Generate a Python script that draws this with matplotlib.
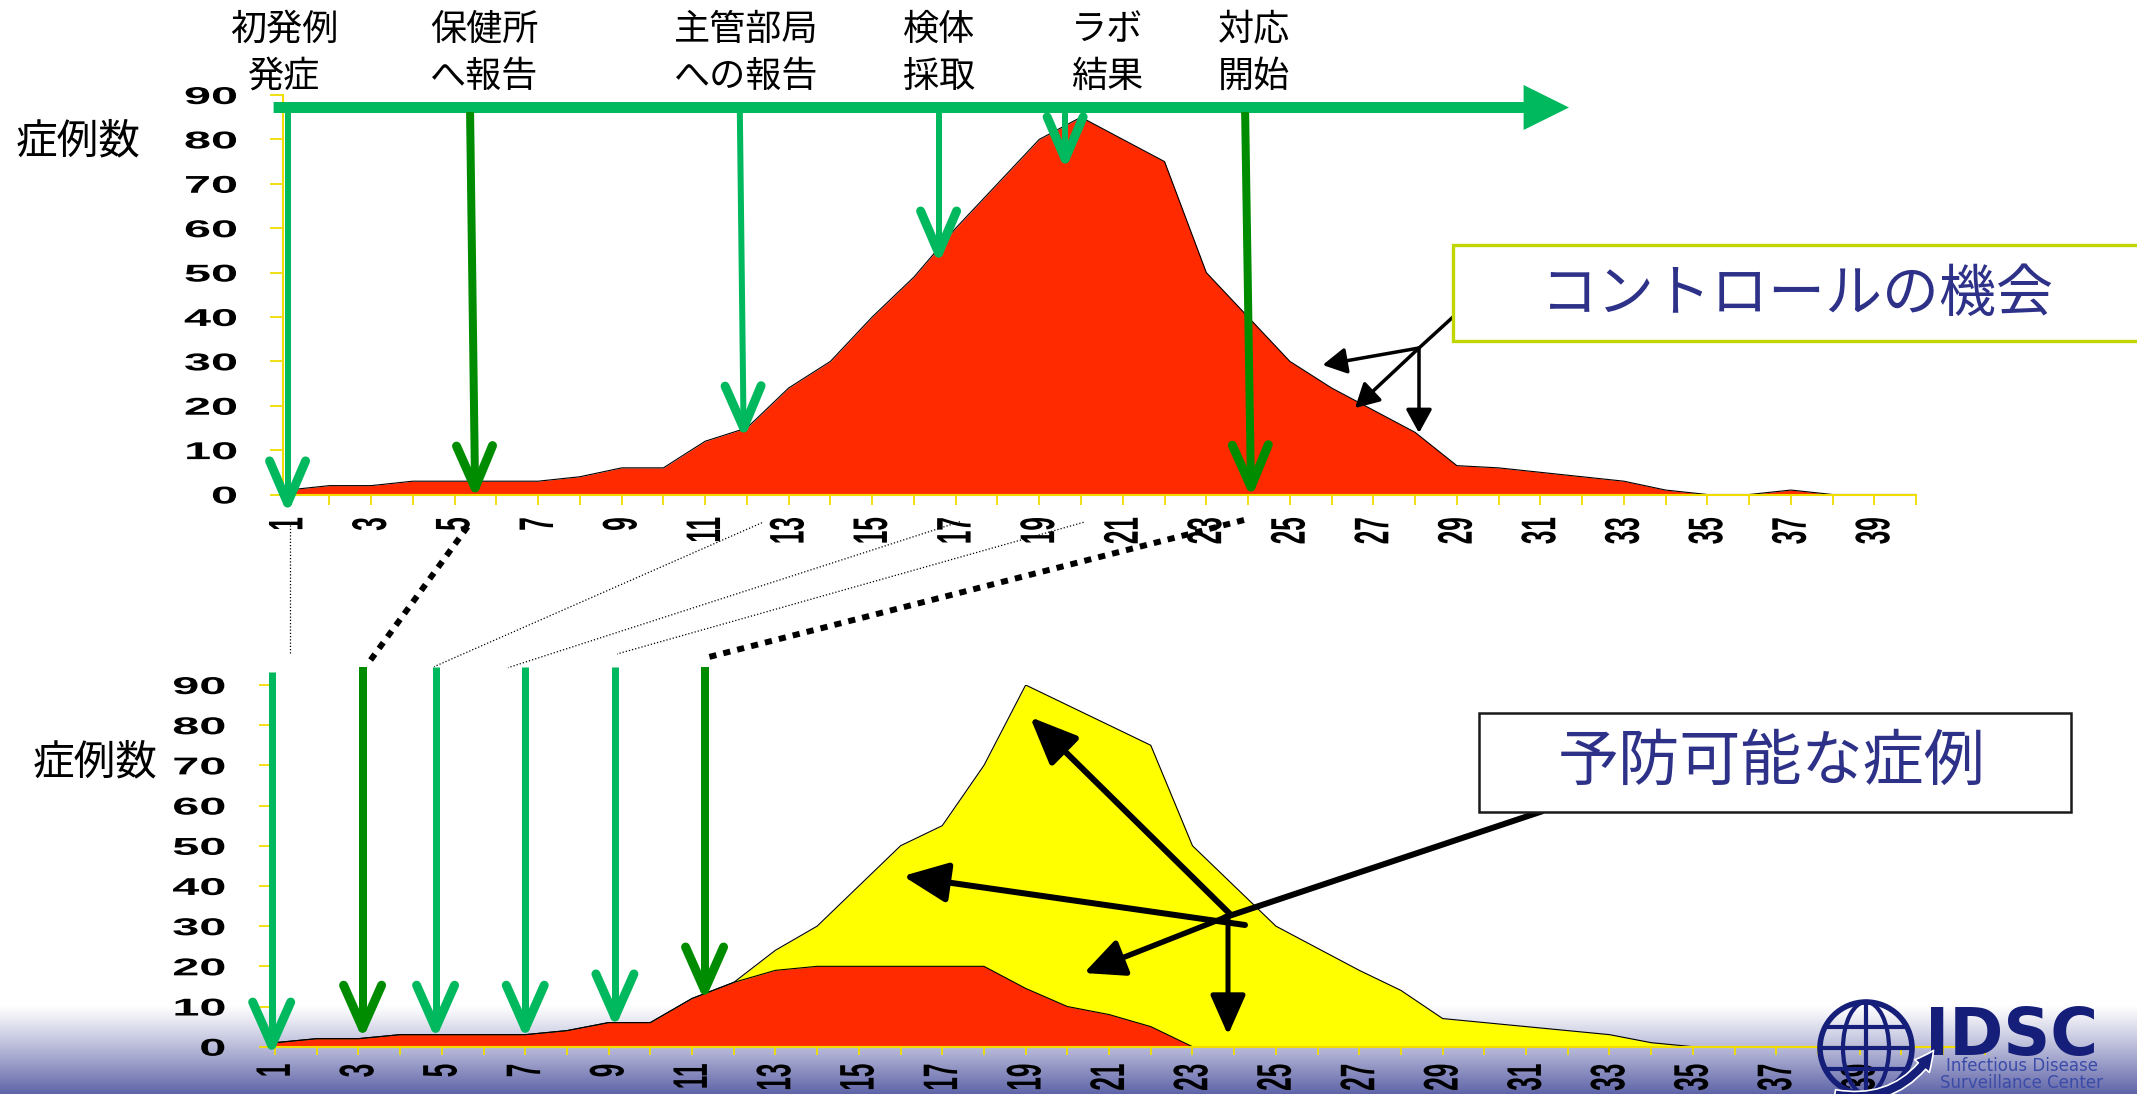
import numpy as np
import matplotlib
matplotlib.use("Agg")
import matplotlib.pyplot as plt
from matplotlib.patches import Rectangle, Polygon, FancyArrowPatch, Circle, Ellipse
from matplotlib.patheffects import AbstractPathEffect
from matplotlib.transforms import Affine2D

plt.rcParams['font.family'] = ['Noto Sans CJK JP', 'DejaVu Sans']

W, H = 2137, 1094

# ---- data ----
days_top = np.arange(1, 41)
cases_top = [1, 2, 2, 3, 3, 3, 3, 4, 6, 6, 12, 15, 24, 30, 40, 49, 60, 70, 80, 85,
             80, 75, 50, 40, 30, 24, 19, 14, 6.5, 6, 5, 4, 3, 1, 0, 0, 1, 0, 0, 0]

days_bottom = np.arange(1, 41)
cases_all = [1, 2, 2, 3, 3, 3, 3, 4, 6, 6, 12, 16, 24, 30, 40, 50, 55, 70, 90, 85,
             80, 75, 50, 40, 30, 24.5, 19, 14, 7, 6, 5, 4, 3, 1, 0, 0, 0, 0, 0, 0]
cases_early = [1, 2, 2, 3, 3, 3, 3, 4, 6, 6, 12, 16, 19, 20, 20, 20, 20, 20, 14.5, 10,
               8, 5, 0, 0, 0, 0, 0, 0, 0, 0, 0, 0, 0, 0, 0, 0, 0, 0, 0, 0]

y_ticks = list(range(0, 100, 10))

event_labels = ["初発例\n発症", "保健所\nへ報告", "主管部局\nへの報告", "検体\n採取", "ラボ\n結果", "対応\n開始"]
event_dark = [False, True, False, False, False, True]
# top chart: day where arrow leaves the timeline, day / value at the tip
top_event_day = [1.0, 5.37, 11.83, 16.59, 19.62, 23.93]
top_tip_day = [1.0, 5.49, 11.92, 16.59, 19.62, 24.07]
top_tip_val = [-1.9, 1.5, 15.0, 54.4, 75.6, 1.7]
# bottom chart: same events, earlier
bot_event_day = [0.92, 3.1, 4.85, 7.0, 9.15, 11.3]
bot_start_val = [93.2, 94.5, 94.5, 94.5, 94.5, 94.5]
bot_tip_val = [0.4, 4.6, 4.6, 4.6, 7.4, 14.1]

LIGHT = '#00B95E'
DARK = '#008C00'
RED = '#FF2A00'
YEL = '#FFFF00'
AXC = '#F2DC00'
NAVY = '#2E3188'


class HStretch(AbstractPathEffect):
    """Widen text on screen, the way the pasted chart picture was widened."""

    def __init__(self, sx, anchor='center'):
        super().__init__()
        self.sx = sx
        self.anchor = anchor

    def draw_path(self, renderer, gc, tpath, affine, rgbFace=None):
        bb = tpath.get_extents(affine)
        x0 = bb.x1 if self.anchor == 'right' else 0.5 * (bb.x0 + bb.x1)
        st = affine + Affine2D().translate(-x0, 0).scale(self.sx, 1).translate(x0, 0)
        renderer.draw_path(gc, tpath, st, rgbFace)


fig = plt.figure(figsize=(W / 100, H / 100), dpi=100)


def px_axes(left, top, right, bottom, z):
    return fig.add_axes([left / W, 1 - bottom / H, (right - left) / W, (bottom - top) / H], zorder=z)


# background gradient band at the bottom
bg = px_axes(0, 0, W, H, 0)
bg.set_xlim(0, W)
bg.set_ylim(H, 0)
bg.axis('off')
t = np.linspace(0, 1, 200) ** 1.1
end = np.array([95, 100, 168]) / 255
grad = (1 - t)[:, None, None] * np.ones(3) + t[:, None, None] * end
bg.imshow(grad, extent=[0, W, H, 1005], aspect='auto', interpolation='bilinear')


def style_chart(ax, xmin, xmax, nticks, xlen, xpad):
    ax.patch.set_visible(False)
    ax.set_xlim(xmin, xmax)
    ax.set_ylim(0, 90)
    for s in ['top', 'right']:
        ax.spines[s].set_visible(False)
    for s in ['left', 'bottom']:
        ax.spines[s].set_color(AXC)
        ax.spines[s].set_linewidth(1.5)
    ticks = list(range(1, nticks + 1))
    labels = [str(d) if d % 2 == 1 and d < 40 else '' for d in ticks]
    ax.set_xticks(ticks, labels, rotation=90, fontsize=17.5, fontweight='bold', family='Liberation Sans')
    ax.set_yticks(y_ticks, [str(v) for v in y_ticks], fontsize=17.5, fontweight='bold',
                  family='Liberation Sans')
    ax.tick_params(axis='x', direction='out', length=xlen, width=1.3, color=AXC, pad=xpad)
    ax.tick_params(axis='y', direction='out', length=9.4, width=1.3, color=AXC, pad=24)
    for tk in ax.xaxis.get_major_ticks():
        tk.label1.set_path_effects([HStretch(2.0, 'center')])
    for tk in ax.yaxis.get_major_ticks():
        tk.label1.set_path_effects([HStretch(2.0, 'right')])


# top chart
ax1 = px_axes(283.4, 95, 1916.2, 494.5, 1)
ax1.fill_between(days_top, cases_top, color=RED, lw=0)
ax1.plot(days_top, cases_top, color='black', lw=0.8)
style_chart(ax1, 0.9, 40, 40, 7, 9.4)

# bottom chart
ax2 = px_axes(271.7, 685, 1984.8, 1046.7, 1)
ax2.fill_between(days_bottom, cases_all, color=YEL, lw=0)
ax2.plot(days_bottom, cases_all, color='black', lw=0.8)
ax2.fill_between(days_bottom, cases_early, color=RED, lw=0)
early_days = [d for d in days_bottom if d <= 23]
ax2.plot(early_days, cases_early[:len(early_days)], color='black', lw=0.8)
style_chart(ax2, 0.92, 42, 42, 5.8, 6.5)

# overlay in pixel coordinates for annotations
ov = px_axes(0, 0, W, H, 3)
ov.set_xlim(0, W)
ov.set_ylim(H, 0)
ov.axis('off')


def to_px(ax, x, y):
    return ov.transData.inverted().transform(ax.transData.transform((x, y)))


def green_arrow(p0, p1, color, lw_px, head_len=42, head_half=18, head_lw=9):
    p0 = np.asarray(p0, float)
    p1 = np.asarray(p1, float)
    ov.plot([p0[0], p1[0]], [p0[1], p1[1]], color=color, lw=lw_px * 0.72,
            solid_capstyle='butt', zorder=3)
    d = (p1 - p0) / np.hypot(*(p1 - p0))
    n = np.array([-d[1], d[0]])
    back = p1 - d * head_len
    for s in (1, -1):
        q = back + n * head_half * s
        ov.plot([q[0], p1[0]], [q[1], p1[1]], color=color, lw=head_lw * 0.72,
                solid_capstyle='round', zorder=3)


def black_arrow(p0, p1, lw_px, hl_px, hw_px):
    ov.add_patch(FancyArrowPatch(p0, p1, arrowstyle=f'-|>,head_length={hl_px * 0.72},head_width={hw_px * 0.72}',
                                 mutation_scale=1, lw=lw_px * 0.72, color='black',
                                 shrinkA=0, shrinkB=0, zorder=4))


# timeline arrow
ov.add_patch(Polygon([(273.6, 102), (1523.6, 102), (1523.6, 85), (1569, 107.5),
                      (1523.6, 130), (1523.6, 113), (273.6, 113)],
                     closed=True, fc=LIGHT, ec='none', zorder=3))

# event labels
label_x = [284, 484, 746, 939, 1107, 1254]
for lx, lab in zip(label_x, event_labels):
    for i, line in enumerate(lab.split('\n')):
        ov.text(lx, 30 + 47 * i, line, fontsize=26, ha='center', va='center', zorder=5)

# event arrows, top chart
for d0, d1, v1, dark in zip(top_event_day, top_tip_day, top_tip_val, event_dark):
    x0 = to_px(ax1, d0, 0)[0]
    tip = to_px(ax1, d1, v1)
    green_arrow((x0, 112), tip, DARK if dark else LIGHT, 8 if dark else 6)

# event arrows, bottom chart
for d, v0, v1, dark in zip(bot_event_day, bot_start_val, bot_tip_val, event_dark):
    green_arrow(to_px(ax2, d, v0), to_px(ax2, d, v1), DARK if dark else LIGHT, 8 if dark else 7,
                head_len=43, head_half=19)

# dotted connectors between the two charts
connectors = [((290, 525), (290, 655), 'thin'),
              ((467.6, 526.7), (367, 665), 'thick'),
              ((762, 522.7), (434, 666.7), 'thin'),
              ((960, 521.7), (508, 667.7), 'thin'),
              ((1083.6, 522.3), (617, 654), 'thin'),
              ((1244, 520), (705, 658), 'thick')]
for (a, b, kind) in connectors:
    if kind == 'thin':
        ov.plot([a[0], b[0]], [a[1], b[1]], color='black', lw=0.9, ls=(0, (1, 1.6)), zorder=3)
    else:
        ov.plot([a[0], b[0]], [a[1], b[1]], color='black', lw=4.3, ls=(0, (1.2, 1.2)),
                dash_capstyle='butt', zorder=3)

# "control opportunity" callout
ov.plot([1453, 1419], [317, 348], color='black', lw=3.5 * 0.72, zorder=4)
j1 = (1419, 348)
black_arrow(j1, (1322.6, 365), 3.5, 20, 11)
black_arrow(j1, (1355, 408), 3.5, 20, 11)
black_arrow(j1, (1419, 433), 3.5, 20, 11)
ov.add_patch(Rectangle((1453, 245), 800, 96, fc='white', ec='#BFD600', lw=2.4, zorder=5))
ov.text(1797, 295, 'コントロールの機会', fontsize=41, color=NAVY, ha='center', va='center', zorder=6)

# "preventable cases" callout
ov.plot([1540, 1226], [812, 917], color='black', lw=6 * 0.72, zorder=4)
black_arrow((1230, 914), (1030, 717), 6, 40, 17)
black_arrow((1245, 925), (903, 876), 6, 38, 17)
black_arrow((1226, 917), (1084, 973), 5.5, 34, 16)
black_arrow((1228, 918), (1228, 1035), 5, 34, 15)
ov.add_patch(Rectangle((1478.5, 713), 592.5, 99, fc='white', ec='#1a1a1a', lw=1.8, zorder=5))
ov.text(1772, 763, '予防可能な症例', fontsize=44, color=NAVY, ha='center', va='center', zorder=6)

# y axis titles
ov.text(78, 142, '症例数', fontsize=30, ha='center', va='center', zorder=5)
ov.text(95, 763, '症例数', fontsize=30, ha='center', va='center', zorder=5)

# IDSC logo
LOGO = '#151E78'
cx, cy, r = 1866, 1048, 46
ov.add_patch(Circle((cx, cy), r, fc='none', ec=LOGO, lw=4, zorder=6))
ov.add_patch(Ellipse((cx, cy), r * 1.0, 2 * r, fc='none', ec=LOGO, lw=3, zorder=6))
ov.plot([cx, cx], [cy - r, cy + r], color=LOGO, lw=3, zorder=6)
for f in (-0.45, 0.0, 0.45):
    half = r * np.sqrt(1 - f ** 2)
    ov.plot([cx - half, cx + half], [cy + f * r, cy + f * r], color=LOGO, lw=3, zorder=6)
ov.add_patch(FancyArrowPatch((1832, 1094), (1935, 1048), connectionstyle='arc3,rad=0.35',
                             arrowstyle='simple,head_length=14,head_width=14,tail_width=7',
                             mutation_scale=1, fc=LOGO, ec='white', lw=1.2, zorder=7))
ov.text(2012, 1055, 'IDSC', fontsize=47, fontweight='bold', color=LOGO, family='DejaVu Sans',
        ha='center', va='baseline', zorder=6)
ov.text(2022, 1092, 'Infectious Disease\nSurveillance Center', fontsize=12, color='#3B4BA8',
        family='DejaVu Sans', ha='center', va='bottom', linespacing=0.95, zorder=6)

fig.savefig('out.png', dpi=100)
